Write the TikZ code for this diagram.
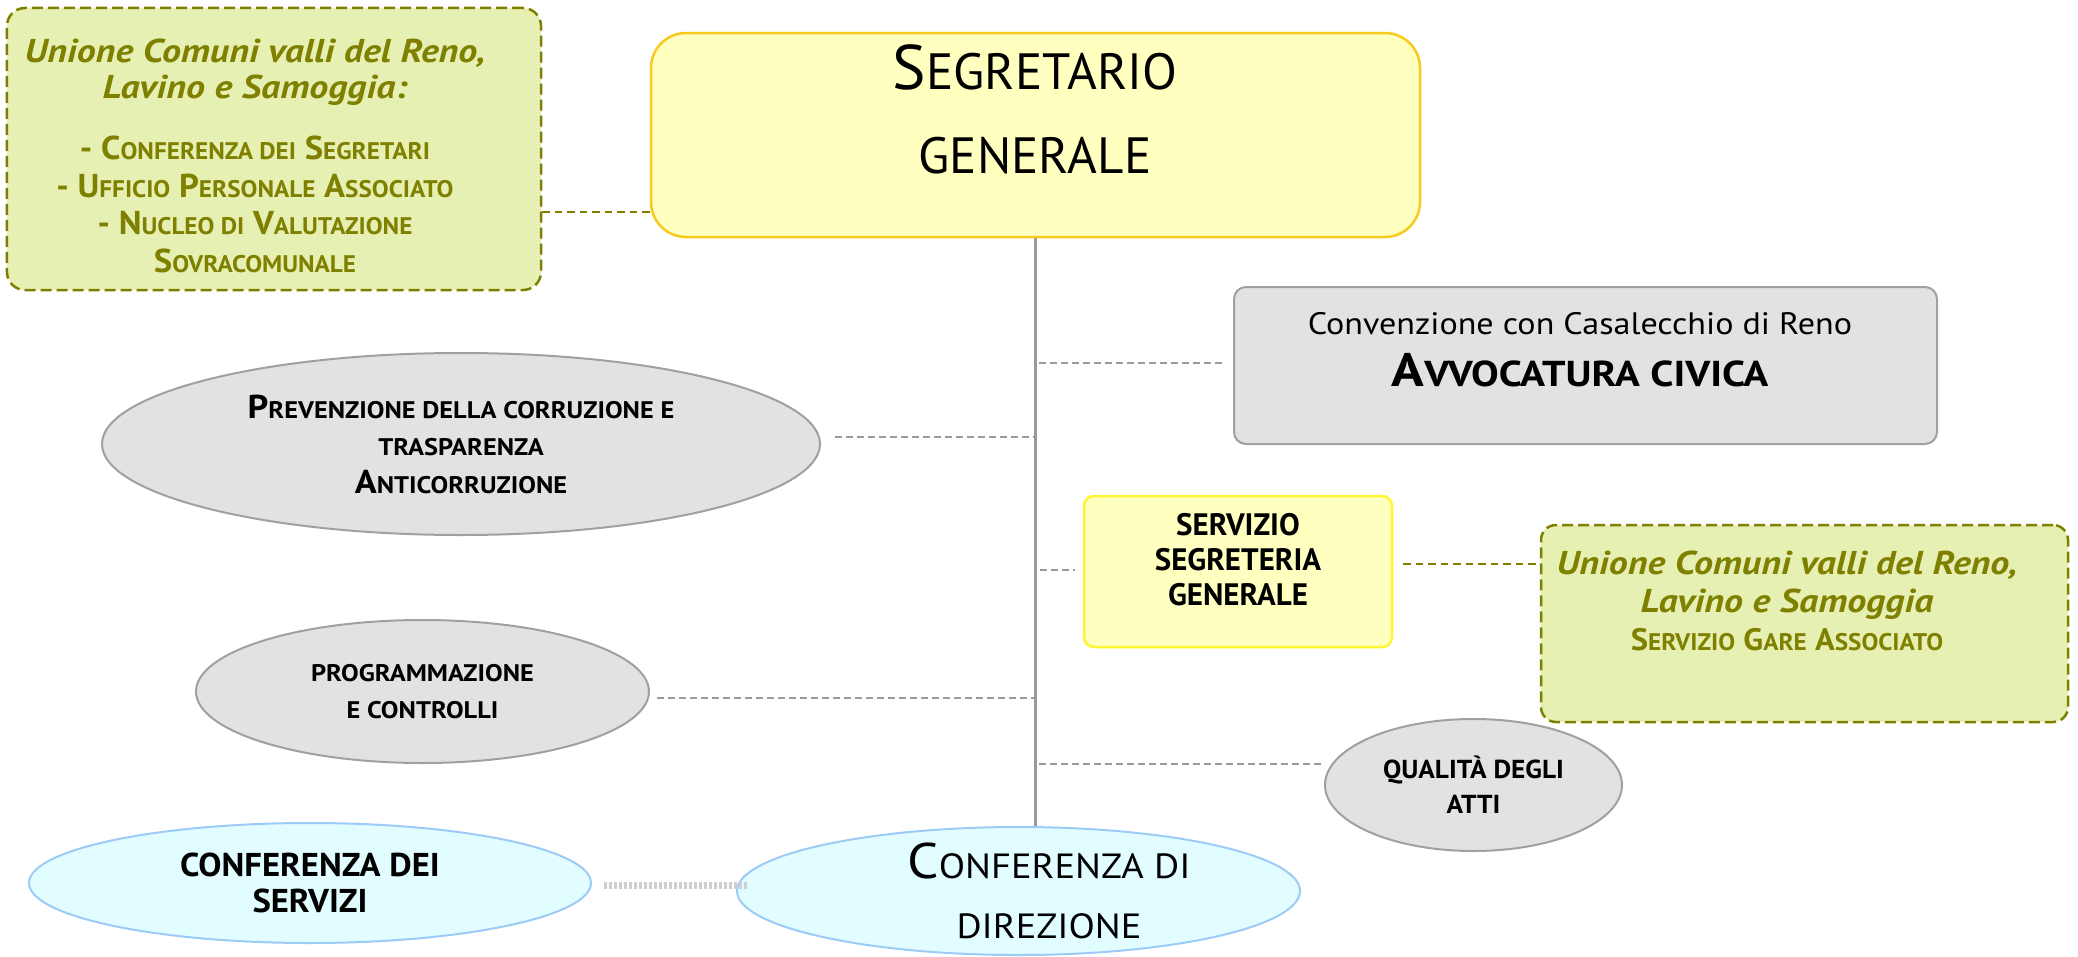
\documentclass[tikz,border=0pt]{standalone}
\usepackage{fontspec}
\setmainfont{PT Sans}
\newfontfamily\wa{PT Sans}[FakeStretch=1.05]
\newfontfamily\wb{PT Sans}[FakeStretch=1.10]
\newfontfamily\wc{PT Sans}[FakeStretch=1.15]
\usetikzlibrary{shapes.geometric}
\definecolor{olivet}{HTML}{7F7F00}
\definecolor{greenfill}{HTML}{E6F0B2}
\definecolor{yelfill}{HTML}{FFFFC0}
\definecolor{yelbord}{HTML}{F7CB1E}
\definecolor{yeltwobord}{HTML}{FFF530}
\definecolor{grayfill}{HTML}{E2E2E2}
\definecolor{graybord}{HTML}{A0A0A0}
\definecolor{cyanfill}{HTML}{E2FDFF}
\definecolor{cyanbord}{HTML}{9CCBF7}
\definecolor{linegray}{HTML}{9A9A9A}
\definecolor{dotgray}{HTML}{CFCFCF}
\newcommand\smc[1]{{\fontsize{\smsz}{\smsz}\selectfont #1}}
\def\smsz{24bp}
\begin{document}
\begin{tikzpicture}[x=1bp,y=-1bp,
  greenbox/.style={draw=olivet, fill=greenfill, line width=2.5bp, dash pattern=on 11bp off 5bp, rounded corners=18bp, inner sep=0pt},
  yelbox/.style={draw=yelbord, fill=yelfill, line width=2.5bp, rounded corners=35bp, inner sep=0pt},
  yeltwobox/.style={draw=yeltwobord, fill=yelfill, line width=2.5bp, rounded corners=10bp, inner sep=0pt},
  graybox/.style={draw=graybord, fill=grayfill, line width=2bp, rounded corners=12bp, inner sep=0pt},
  grayell/.style={ellipse, draw=graybord, fill=grayfill, line width=2bp, inner sep=0pt, align=center},
  cyanell/.style={ellipse, draw=cyanbord, fill=cyanfill, line width=2bp, inner sep=0pt, align=center},
  txt/.style={align=center, inner sep=0pt},
  oltxt/.style={txt, text=olivet},
  gdash/.style={draw=linegray, line width=2bp, dash pattern=on 7bp off 4bp},
  odash/.style={draw=olivet, line width=2bp, dash pattern=on 7.5bp off 5bp},
  trunk/.style={draw=linegray, line width=3.5bp},
  dotline/.style={draw=dotgray, line width=7bp, dash pattern=on 3bp off 2bp}
]
\useasboundingbox (0,0) rectangle (2078,957);

% boxes
\node[greenbox, minimum width=534bp, minimum height=282bp] (g1) at (274,149) {};
\node[oltxt, font=\wa\bfseries\fontsize{33bp}{37.5bp}\selectfont\def\smsz{24bp}] (g1t) at (255,156)
  {{\wc\itshape\fontsize{33bp}{37.5bp}\selectfont Unione Comuni valli del Reno,}\\[-2bp]
   {\wc\itshape\fontsize{33bp}{37.5bp}\selectfont Lavino e Samoggia:}\\[24bp]
   - C\smc{ONFERENZA DEI} S\smc{EGRETARI}\\
   - U\smc{FFICIO} P\smc{ERSONALE} A\smc{SSOCIATO}\\
   - N\smc{UCLEO DI} V\smc{ALUTAZIONE}\\
   S\smc{OVRACOMUNALE}};

\node[yelbox, minimum width=769bp, minimum height=204bp] (seg) at (1035.5,135) {};
\node[txt, font=\fontsize{63bp}{84bp}\selectfont\def\smsz{51bp}] (segt) at (1035,109)
  {S\smc{EGRETARIO}\\\smc{GENERALE}};

\node[graybox, minimum width=703bp, minimum height=157bp] (avv) at (1585.5,365.5) {};
\node[txt, font=\wb\fontsize{31bp}{52bp}\selectfont] (avvt) at (1580,350)
  {Convenzione con Casalecchio di Reno\\
   {\wc\bfseries\fontsize{47bp}{52bp}\selectfont\def\smsz{36bp}A\smc{VVOCATURA CIVICA}}};

\node[grayell, minimum width=718bp, minimum height=182bp, font=\wb\bfseries\fontsize{33bp}{37.5bp}\selectfont\def\smsz{24bp}] (prev) at (461,444)
  {P\smc{REVENZIONE DELLA CORRUZIONE E}\\\smc{TRASPARENZA}\\A\smc{NTICORRUZIONE}};

\node[yeltwobox, minimum width=308bp, minimum height=151bp] (serv) at (1238,571.5) {};
\node[txt, font=\bfseries\fontsize{31bp}{35bp}\selectfont] (servt) at (1238,560)
  {SERVIZIO\\SEGRETERIA\\GENERALE};

\node[greenbox, rounded corners=15bp, minimum width=527bp, minimum height=197bp] (g2) at (1804.5,623.5) {};
\node[oltxt, font=\wa\bfseries\fontsize{31bp}{38bp}\selectfont\def\smsz{24bp}] (g2t) at (1787,601)
  {{\wc\itshape\fontsize{33bp}{38bp}\selectfont Unione Comuni valli del Reno,}\\
   {\wc\itshape\fontsize{33bp}{38bp}\selectfont Lavino e Samoggia}\\
   S\smc{ERVIZIO} G\smc{ARE} A\smc{SSOCIATO}};

\node[grayell, minimum width=453bp, minimum height=143bp, font=\wb\bfseries\fontsize{24bp}{37bp}\selectfont] (prog) at (422.5,691.5)
  {PROGRAMMAZIONE\\E CONTROLLI};

\node[grayell, minimum width=297bp, minimum height=132bp, font=\wa\bfseries\fontsize{26bp}{35bp}\selectfont] (qual) at (1473.5,785)
  {QUALITÀ DEGLI\\ATTI};

\node[cyanell, minimum width=562bp, minimum height=120bp, font=\wa\bfseries\fontsize{33bp}{36bp}\selectfont] (cds) at (310,883)
  {CONFERENZA DEI\\SERVIZI};

\node[cyanell, minimum width=563bp, minimum height=128bp] (cdd) at (1018.5,891) {};
\node[txt, font=\wb\fontsize{50bp}{60bp}\selectfont\def\smsz{35bp}] (cddt) at (1049,891)
  {C\smc{ONFERENZA DI}\\\smc{DIREZIONE}};

% connectors
\draw[odash] (g1.east |- 0,212) -- (seg.west |- 0,212);
\draw[trunk] (seg.south) -- (seg.south |- cdd.north);
\draw[gdash, shorten <=3bp, shorten >=11bp] (seg.south |- 0,363) -- (avv.west |- 0,363);
\draw[gdash, shorten <=14bp] (prev.east |- 0,437) -- (seg.south |- 0,437);
\draw[gdash, shorten <=4bp, shorten >=8bp] (seg.south |- 0,570) -- (serv.west |- 0,570);
\draw[odash, shorten <=10bp] (serv.east |- 0,564) -- (g2.west |- 0,564);
\draw[gdash, shorten <=7bp] (prog.east |- 0,698) -- (seg.south |- 0,698);
\draw[gdash, shorten <=3bp] (seg.south |- 0,764) -- (qual.west |- 0,764);
\draw[dotline, shorten <=12bp, shorten >=-11bp] (cds.east |- 0,885) -- (cdd.west |- 0,885);
\end{tikzpicture}
\end{document}
